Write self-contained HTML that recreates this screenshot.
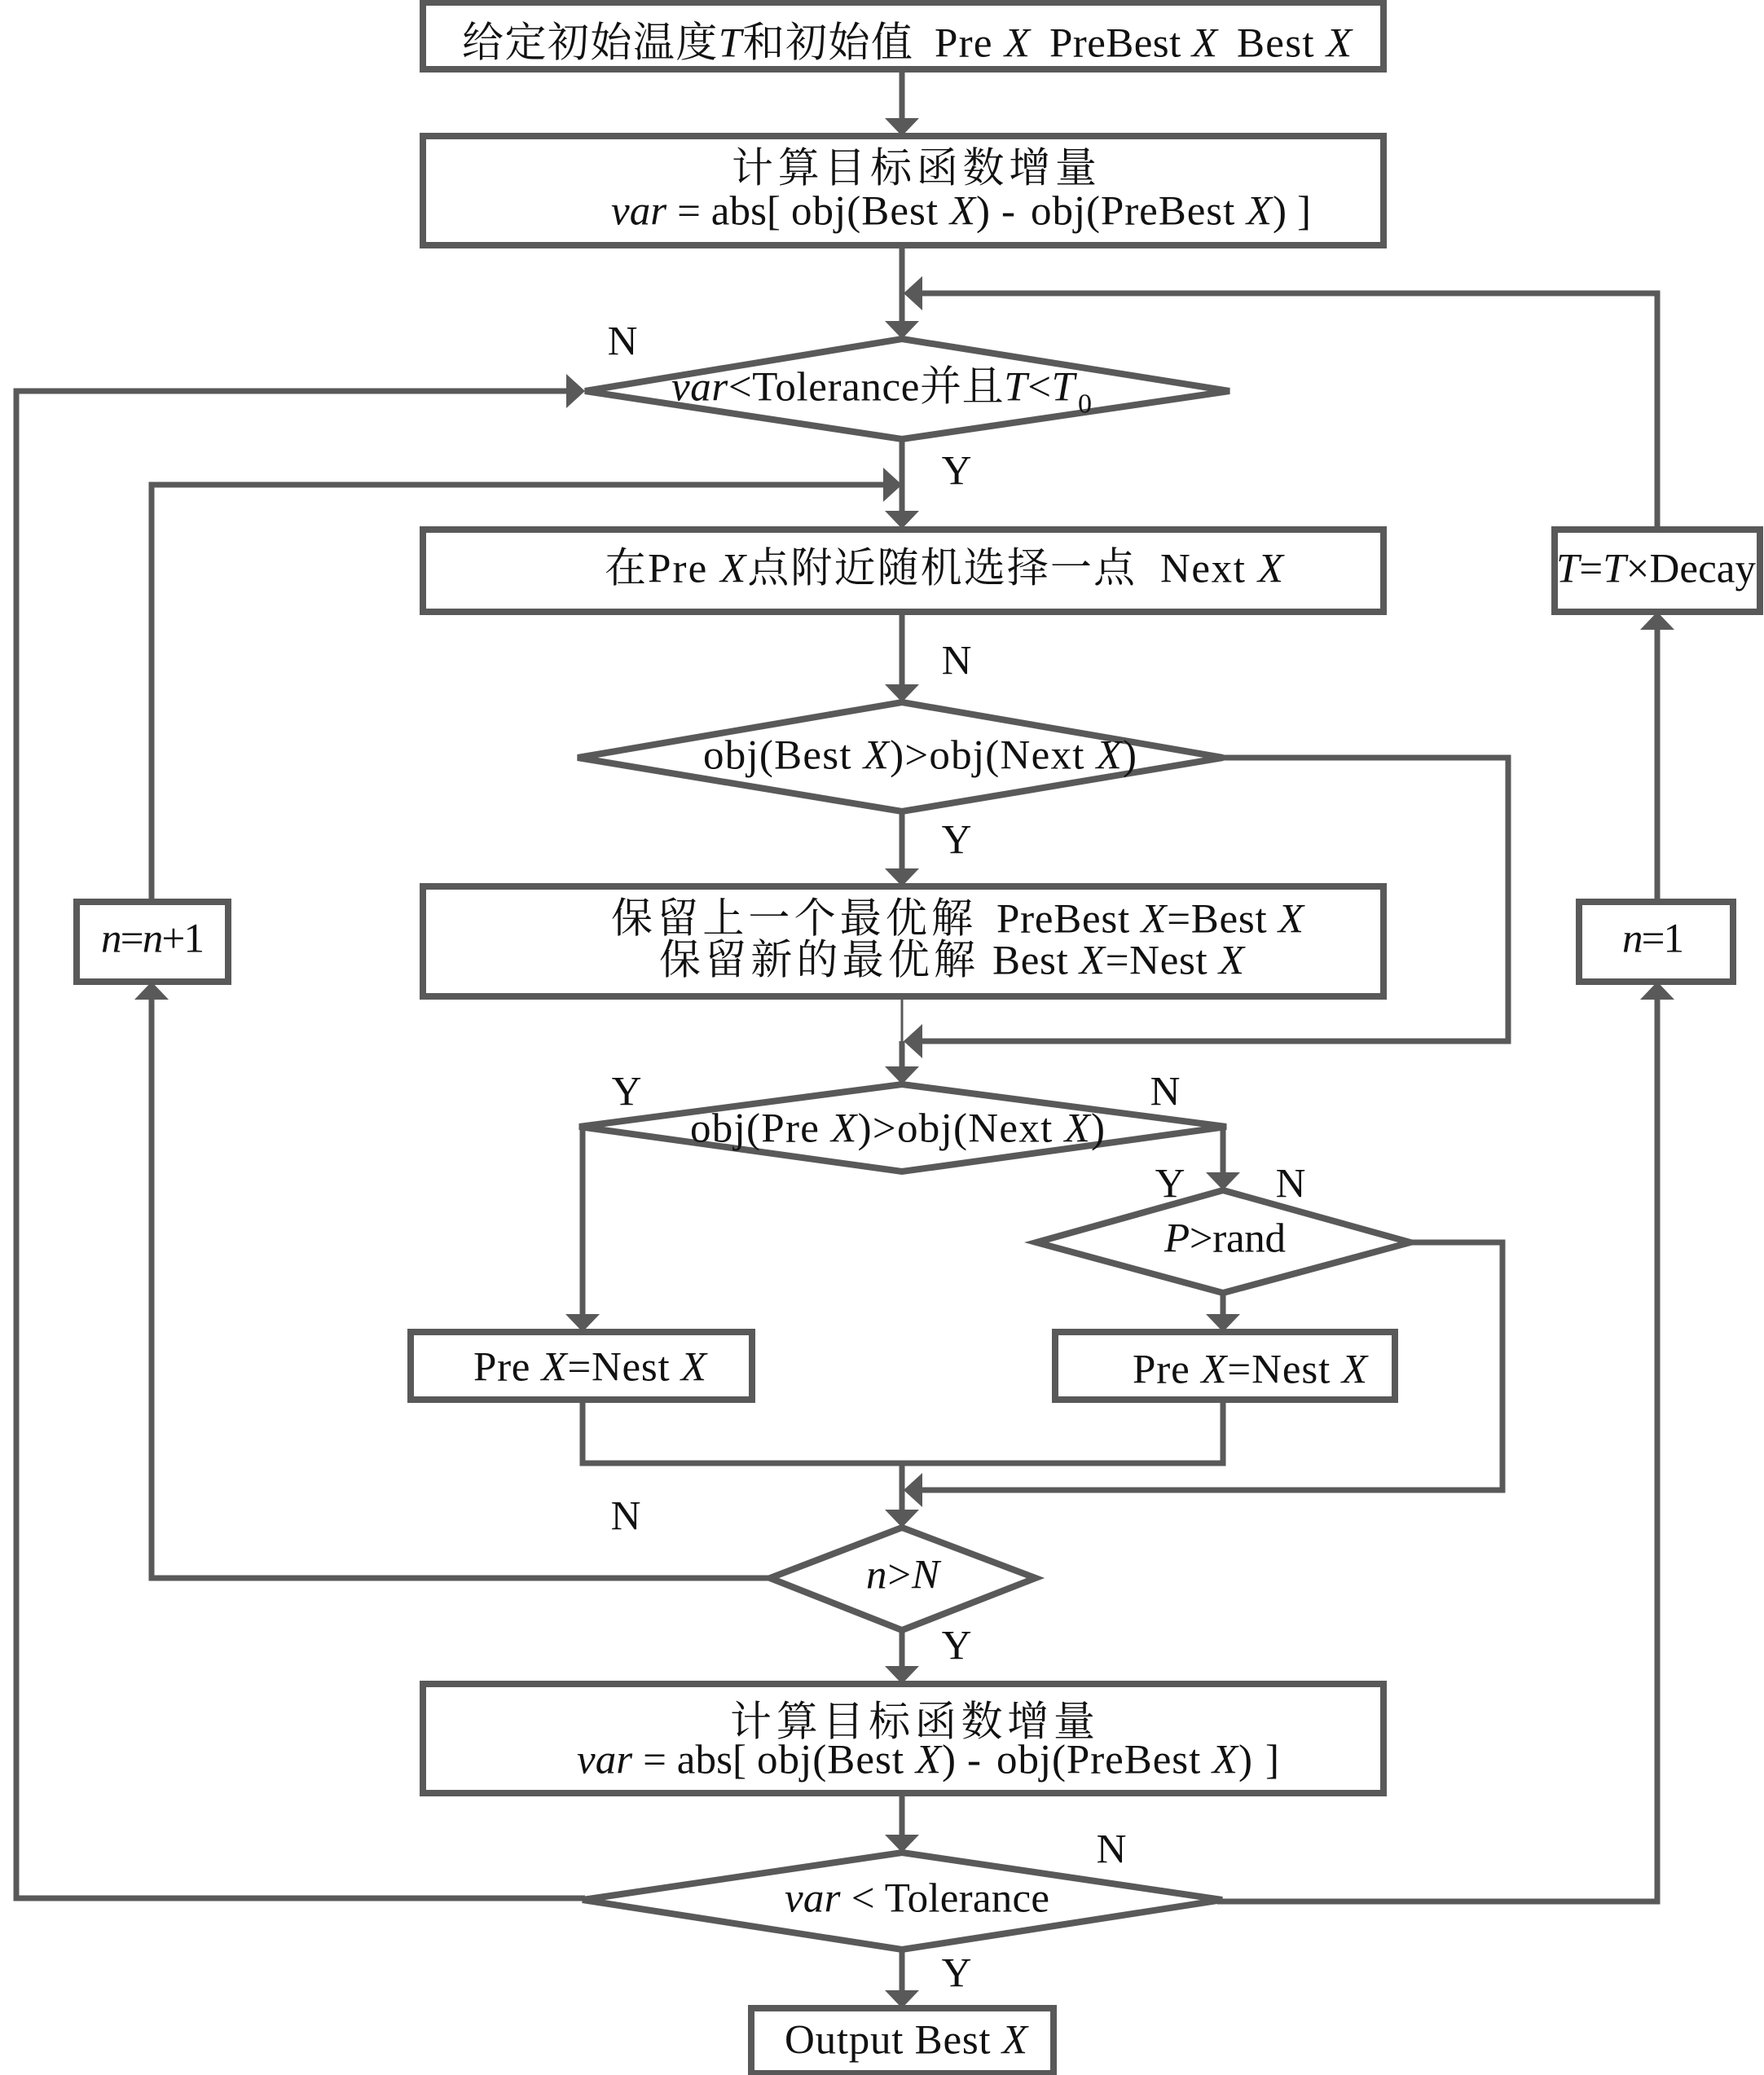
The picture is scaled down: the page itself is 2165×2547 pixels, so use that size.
<!DOCTYPE html>
<html><head><meta charset="utf-8">
<style>
html,body{margin:0;padding:0;background:#fff}
svg{display:block}
text{font-family:"Liberation Serif","Noto Serif CJK SC",serif;font-size:51px;fill:#111}
.i{font-style:italic}
.s{stroke:#595959;stroke-width:8;stroke-linejoin:miter;fill:none}
.w{fill:#fff}
.c{fill:none;stroke:#595959;stroke-width:7}
.a{fill:#595959;stroke:none}
.l{text-anchor:middle}
</style></head><body>
<svg width="2165" height="2547" viewBox="0 0 2165 2547" xmlns="http://www.w3.org/2000/svg">
<rect width="2165" height="2547" fill="#fff"/>

<!-- connectors -->
<g class="c">
<path d="M1107 85V150"/>
<path d="M1107 301V398"/>
<path d="M2034 649V360H1125"/>
<path d="M1107 539V630"/>
<path d="M700 480H20V2330H718"/>
<path d="M186 1107V595H1090"/>
<path d="M1107 751V840"/>
<path d="M1107 996V1070"/>
<path d="M1496 930H1851V1278H1125"/>
<path d="M1107 1223V1313" style="stroke-width:3"/>
<path d="M1107 1278V1313"/>
<path d="M715 1383V1618"/>
<path d="M1501 1383V1442"/>
<path d="M1729 1525H1844V1829H1125"/>
<path d="M1501 1587V1618"/>
<path d="M715 1718V1796H1501V1718"/>
<path d="M1107 1796V1857"/>
<path d="M949 1937H186V1225"/>
<path d="M1107 2001V2050"/>
<path d="M1107 2201V2257"/>
<path d="M1494 2334H2034V1225"/>
<path d="M1107 2393V2447"/>
<path d="M2034 1107V772"/>
</g>

<!-- arrowheads -->
<g class="a">
<polygon points="1086,145 1128,145 1107,167"/>
<polygon points="1086,394 1128,394 1107,416"/>
<polygon points="1086,627 1128,627 1107,649"/>
<polygon points="1086,840 1128,840 1107,862"/>
<polygon points="1086,1066 1128,1066 1107,1088"/>
<polygon points="1086,1309 1128,1309 1107,1331"/>
<polygon points="1086,1853 1128,1853 1107,1875"/>
<polygon points="1086,2045 1128,2045 1107,2067"/>
<polygon points="1086,2252 1128,2252 1107,2274"/>
<polygon points="1086,2443 1128,2443 1107,2465"/>
<polygon points="694,1613 736,1613 715,1635"/>
<polygon points="1480,1439 1522,1439 1501,1461"/>
<polygon points="1480,1613 1522,1613 1501,1635"/>
<polygon points="2013,773 2055,773 2034,751"/>
<polygon points="2013,1227 2055,1227 2034,1205"/>
<polygon points="165,1227 207,1227 186,1205"/>
<polygon points="1132,339 1132,381 1109,360"/>
<polygon points="1132,1257 1132,1299 1109,1278"/>
<polygon points="1132,1808 1132,1850 1109,1829"/>
<polygon points="1084,574 1084,616 1107,595"/>
<polygon points="695,459 695,501 718,480"/>
</g>

<!-- boxes -->
<g class="s">
<rect class="w" x="519" y="3" width="1179" height="82"/>
<rect class="w" x="519" y="167" width="1179" height="134"/>
<rect class="w" x="519" y="650" width="1179" height="101"/>
<rect class="w" x="519" y="1088" width="1179" height="135"/>
<rect class="w" x="519" y="2067" width="1179" height="134"/>
<rect class="w" x="1908" y="650" width="252" height="101"/>
<rect class="w" x="94" y="1107" width="186" height="98"/>
<rect class="w" x="1938" y="1107" width="189" height="98"/>
<rect class="w" x="504" y="1635" width="419" height="83"/>
<rect class="w" x="1295" y="1635" width="417" height="83"/>
<rect class="w" x="922" y="2465" width="371" height="80"/>
<path class="w" d="M1107 416L1509 480L1107 539L718 480Z"/>
<path class="w" d="M1107 862L1501 930L1107 996L709 930Z"/>
<path class="w" d="M1107 1331L1505 1383L1107 1438L711 1383Z"/>
<path class="w" d="M1501 1461L1731 1525L1501 1587L1272 1525Z"/>
<path class="w" d="M1107 1875L1271 1937L1107 2001L945 1937Z"/>
<path class="w" d="M1107 2274L1500 2332L1107 2393L715 2332Z"/>
</g>

<!-- labels -->
<g transform="translate(0,1.5)">
<text x="567" y="68" textLength="553" lengthAdjust="spacing">给定初始温度<tspan class="i">T</tspan>和初始值</text>
<text x="1147" y="68" textLength="117" lengthAdjust="spacing">Pre <tspan class="i">X</tspan></text>
<text x="1288" y="68" textLength="206" lengthAdjust="spacing">PreBest <tspan class="i">X</tspan></text>
<text x="1518" y="68" textLength="141" lengthAdjust="spacing">Best <tspan class="i">X</tspan></text>

<text x="898" y="222" textLength="448" lengthAdjust="spacing">计算目标函数增量</text>
<text x="750" y="274" textLength="208" lengthAdjust="spacing"><tspan class="i">var</tspan> = abs[</text>
<text x="971" y="274" textLength="244" lengthAdjust="spacing">obj(Best <tspan class="i">X</tspan>)</text>
<text x="1229" y="274">-</text>
<text x="1265" y="274" textLength="314" lengthAdjust="spacing">obj(PreBest <tspan class="i">X</tspan>)</text>
<text x="1592" y="274">]</text>

<text x="824" y="490" textLength="495" lengthAdjust="spacing"><tspan class="i">var</tspan>&lt;Tolerance并且<tspan class="i">T</tspan>&lt;<tspan class="i">T</tspan></text>
<text x="1323" y="505" style="font-size:34px">0</text>

<text x="742" y="713" textLength="651" lengthAdjust="spacing">在Pre <tspan class="i">X</tspan>点附近随机选择一点</text>
<text x="1424" y="713" textLength="151" lengthAdjust="spacing">Next <tspan class="i">X</tspan></text>
<text x="1910" y="713" textLength="245" lengthAdjust="spacing"><tspan class="i">T</tspan>=<tspan class="i">T</tspan>×Decay</text>
<text x="863" y="942" textLength="532" lengthAdjust="spacing">obj(Best <tspan class="i">X</tspan>)&gt;obj(Next <tspan class="i">X</tspan>)</text>

<text x="750" y="1143" textLength="444" lengthAdjust="spacing">保留上一个最优解</text>
<text x="1223" y="1143" textLength="377" lengthAdjust="spacing">PreBest <tspan class="i">X</tspan>=Best <tspan class="i">X</tspan></text>
<text x="809" y="1194" textLength="388" lengthAdjust="spacing">保留新的最优解</text>
<text x="1218" y="1194" textLength="309" lengthAdjust="spacing">Best <tspan class="i">X</tspan>=Nest <tspan class="i">X</tspan></text>

<text x="124" y="1167" textLength="127" lengthAdjust="spacing"><tspan class="i">n</tspan>=<tspan class="i">n</tspan>+1</text>
<text x="1991" y="1167" textLength="76" lengthAdjust="spacing"><tspan class="i">n</tspan>=1</text>
<text x="847" y="1400" textLength="509" lengthAdjust="spacing">obj(Pre <tspan class="i">X</tspan>)&gt;obj(Next <tspan class="i">X</tspan>)</text>
<text x="1429" y="1535" textLength="149" lengthAdjust="spacing"><tspan class="i">P</tspan>&gt;rand</text>
<text x="581" y="1693" textLength="286" lengthAdjust="spacing">Pre <tspan class="i">X</tspan>=Nest <tspan class="i">X</tspan></text>
<text x="1390" y="1696" textLength="288" lengthAdjust="spacing">Pre <tspan class="i">X</tspan>=Nest <tspan class="i">X</tspan></text>
<text x="1063" y="1948" textLength="90" lengthAdjust="spacing"><tspan class="i">n</tspan>&gt;<tspan class="i">N</tspan></text>

<text x="896" y="2129" textLength="448" lengthAdjust="spacing">计算目标函数增量</text>
<text x="708" y="2175" textLength="208" lengthAdjust="spacing"><tspan class="i">var</tspan> = abs[</text>
<text x="929" y="2175" textLength="244" lengthAdjust="spacing">obj(Best <tspan class="i">X</tspan>)</text>
<text x="1187" y="2175">-</text>
<text x="1223" y="2175" textLength="314" lengthAdjust="spacing">obj(PreBest <tspan class="i">X</tspan>)</text>
<text x="1553" y="2175">]</text>

<text x="963" y="2345" textLength="325" lengthAdjust="spacing"><tspan class="i">var</tspan> &lt; Tolerance</text>
<text x="963" y="2519" textLength="298" lengthAdjust="spacing">Output Best <tspan class="i">X</tspan></text>

<text class="l" x="764" y="434">N</text>
<text class="l" x="1174" y="593">Y</text>
<text class="l" x="1174" y="826">N</text>
<text class="l" x="1174" y="1046">Y</text>
<text class="l" x="769" y="1355">Y</text>
<text class="l" x="1430" y="1355">N</text>
<text class="l" x="1436" y="1468">Y</text>
<text class="l" x="1584" y="1468">N</text>
<text class="l" x="768" y="1876">N</text>
<text class="l" x="1174" y="2035">Y</text>
<text class="l" x="1364" y="2285">N</text>
<text class="l" x="1174" y="2437">Y</text>
</g>
</svg>
</body></html>
